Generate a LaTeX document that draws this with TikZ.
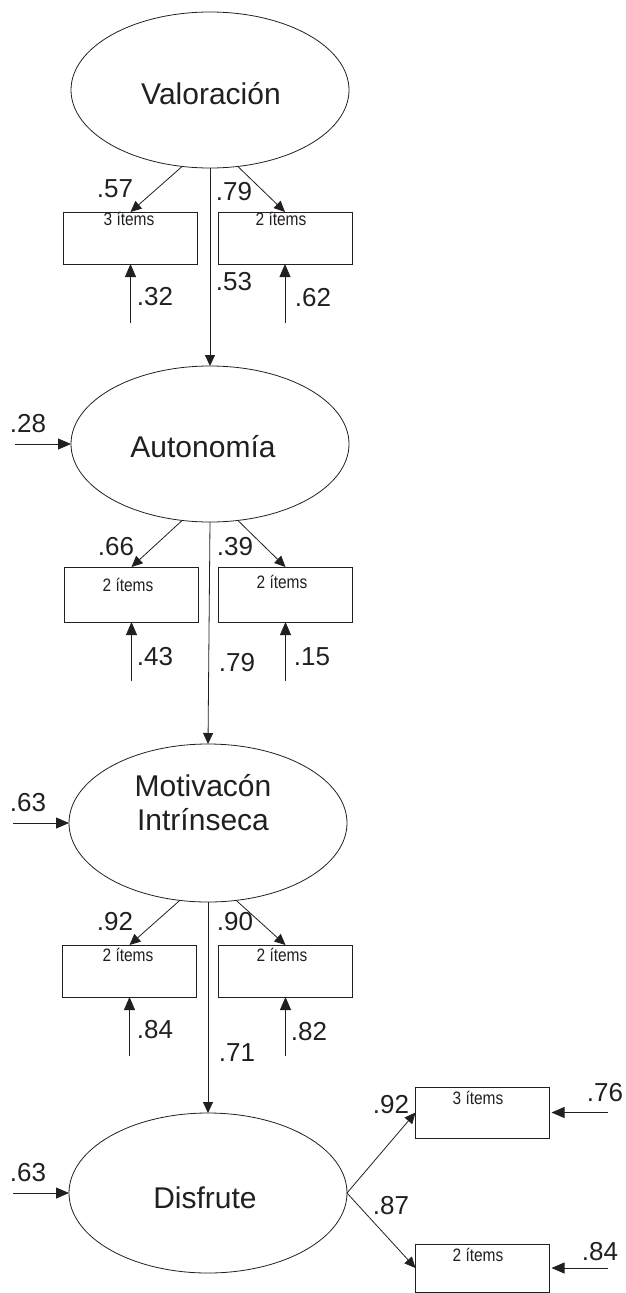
\documentclass[tikz,border=0pt]{standalone}
\usepackage{fontspec}
\setmainfont{Liberation Sans}
\newfontfamily\itemsfont{Liberation Sans}[FakeStretch=0.86]
\usetikzlibrary{shapes.geometric,arrows.meta,calc}
\definecolor{ink}{HTML}{231F20}

\begin{document}
\begin{tikzpicture}[x=1pt,y=-1pt,
  every node/.style={inner sep=0pt, outer sep=0pt, text=ink},
  latent/.style={draw=ink, ellipse, line width=0.8pt, minimum width=278pt},
  obs/.style={draw=ink, rectangle, line width=0.8pt, minimum width=134pt},
  lvname/.style={font=\fontsize{30}{34}\selectfont, text height=0.72em, text depth=0pt},
  itemtxt/.style={font=\itemsfont\fontsize{18}{20}\selectfont, text height=0.72em, text depth=0pt},
  coef/.style={font=\fontsize{26}{28}\selectfont, text height=0.72em, text depth=0pt},
  path/.style={draw=ink, line width=0.8pt, -{Triangle[length=11pt,width=10pt]}},
  resid/.style={draw=ink, line width=0.8pt, -{Triangle[length=13pt,width=11pt]}}
]
\useasboundingbox (0,0) rectangle (625,1293);

% latent variables
\node[latent, minimum height=156pt] (V) at (210,90) {};
\node[latent, minimum height=156pt] (A) at (210,444) {};
\node[latent, minimum height=158pt] (M) at (208,823) {};
\node[latent, minimum height=160pt] (D) at (208,1193) {};

\node[lvname] (Vt) at (211,101) {Valoración};
\node[lvname] (At) at (203,454) {Autonomía};
\node[lvname] (Mt1) at (203,793) {Motivacón};
\node[lvname] (Mt2) at (203,827) {Intrínseca};
\node[lvname] (Dt) at (205,1205) {Disfrute};

% indicator boxes
\node[obs, minimum height=52pt] (V1) at (130.5,238) {};
\node[obs, minimum height=52pt] (V2) at (285,238) {};
\node[obs, minimum height=55pt] (A1) at (131.5,594.5) {};
\node[obs, minimum height=55pt] (A2) at (285.5,594.5) {};
\node[obs, minimum height=52pt] (M1) at (129.5,971) {};
\node[obs, minimum height=52pt] (M2) at (285.5,971) {};
\node[obs, minimum height=51pt] (D1) at (482.5,1112.5) {};
\node[obs, minimum height=48pt] (D2) at (482.5,1268) {};

\node[itemtxt] (V1t) at (129,222) {3 ítems};
\node[itemtxt] (V2t) at (281,222) {2 ítems};
\node[itemtxt] (A1t) at (128,588) {2 ítems};
\node[itemtxt] (A2t) at (282,585) {2 ítems};
\node[itemtxt] (M1t) at (128,958) {2 ítems};
\node[itemtxt] (M2t) at (282,958) {2 ítems};
\node[itemtxt] (D1t) at (478,1101) {3 ítems};
\node[itemtxt] (D2t) at (478,1258) {2 ítems};

% structural paths
\draw[path] (V.south) -- (A.north);
\draw[path] (A.south) -- (M.north);
\draw[path] (M.south) -- (D.north);

% loadings
\draw[path] (V.250) -- (V1.north);
\draw[path] (V.290) -- (V2.north);
\draw[path] (A.250) -- (A1.north);
\draw[path] (A.290) -- (A2.north);
\draw[path] (M.250) -- (M1.north);
\draw[path] (M.290) -- (M2.north);
\draw[path] (D.east) -- (D1.west);
\draw[path] (D.east) -- (D2.west);

% error terms
\foreach \b in {V1,V2,A1,A2,M1,M2}{
  \coordinate (e\b) at ($(\b.south)+(0,59)$);
  \draw[resid] (e\b) -- (\b.south);
}
\foreach \b in {A,M,D}{
  \coordinate (e\b) at ($(\b.west)+(-56,0)$);
  \draw[resid] (e\b) -- (\b.west);
}
\foreach \b in {D1,D2}{
  \coordinate (e\b) at ($(\b.east)+(58,0)$);
  \draw[resid, shorten >=2pt] (e\b) -- (\b.east);
}

% coefficients
\node[coef] (cV1) at (115,194) {.57};
\node[coef] (cV2) at (234,197) {.79};
\node[coef] (cVA) at (234,287) {.53};
\node[coef] (rV1) at (155,302) {.32};
\node[coef] (rV2) at (313,303) {.62};

\node[coef] (rA) at (28,429) {.28};
\node[coef] (cA1) at (116,552) {.66};
\node[coef] (cA2) at (235,552) {.39};
\node[coef] (rA1) at (155,662) {.43};
\node[coef] (rA2) at (312,662) {.15};
\node[coef] (cAM) at (237,668) {.79};

\node[coef] (rM) at (28,808) {.63};
\node[coef] (cM1) at (115,927) {.92};
\node[coef] (cM2) at (235,927) {.90};
\node[coef] (rM1) at (155,1035) {.84};
\node[coef] (rM2) at (309,1037) {.82};
\node[coef] (cMD) at (237,1058) {.71};

\node[coef] (rD) at (28,1178) {.63};
\node[coef] (cD1) at (391,1110) {.92};
\node[coef] (cD2) at (391,1211) {.87};
\node[coef] (rD1) at (605,1098) {.76};
\node[coef] (rD2) at (600,1257) {.84};
\end{tikzpicture}
\end{document}
